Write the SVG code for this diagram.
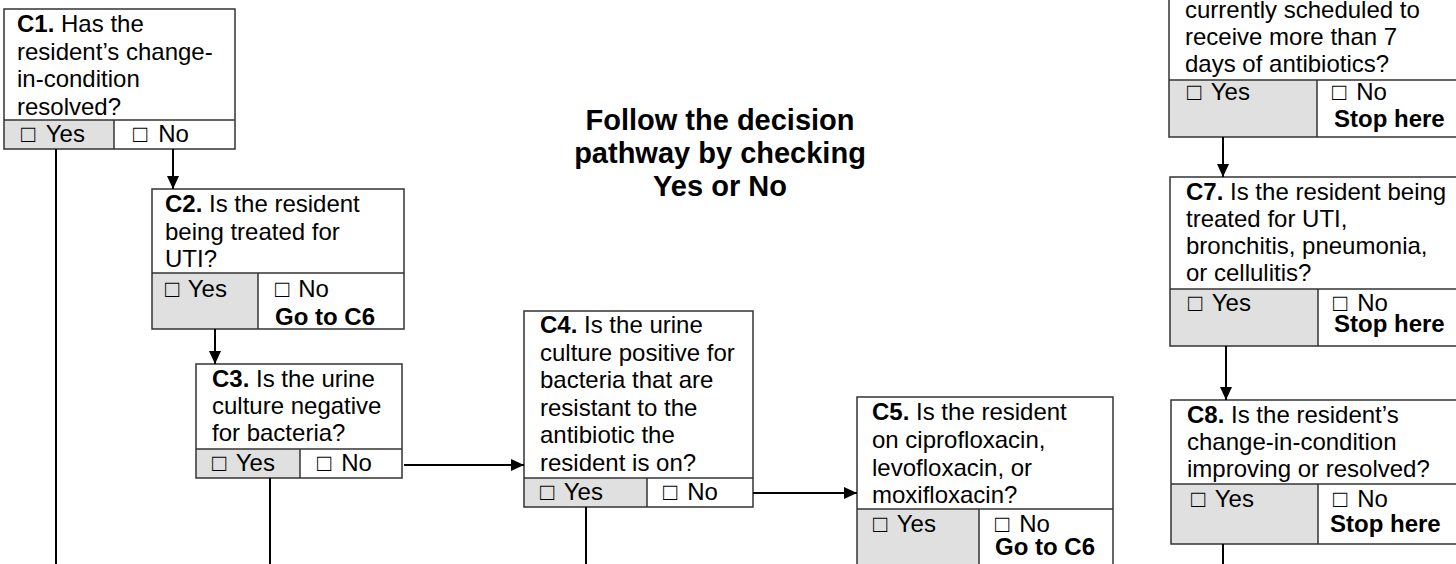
<svg xmlns="http://www.w3.org/2000/svg" width="1456" height="564" viewBox="0 0 1456 564">
<defs>
<style>
.box{fill:none;stroke:#333;stroke-width:1.5}
.yes{fill:#e0e0e0}
.sep{stroke:#333;stroke-width:1.5}
text{font-family:"Liberation Sans",Arial,"DejaVu Sans",sans-serif;font-size:24px;fill:#000}
.b{font-weight:bold}
.cb{font-weight:bold}
.title{font-size:29px;font-weight:bold;text-anchor:middle}
.conn line{stroke:#000;stroke-width:2;fill:none}
</style>
<marker id="arr" markerUnits="userSpaceOnUse" markerWidth="13" markerHeight="12" refX="13" refY="6" orient="auto">
<path d="M0,0 L13,6 L0,12 z" fill="#000"/>
</marker>
</defs>
<rect width="1456" height="564" fill="#fff"/>

<g id="title">
<text class="title" x="720" y="130">Follow the decision</text>
<text class="title" x="720" y="163">pathway by checking</text>
<text class="title" x="720" y="196">Yes or No</text>
</g>

<g id="c1">
<rect class="yes" x="4" y="120" width="110" height="29"/>
<rect class="box" x="4" y="9" width="231" height="140"/>
<line class="sep" x1="4" y1="120" x2="235" y2="120"/>
<line class="sep" x1="114" y1="120" x2="114" y2="149"/>
<text x="17" y="32"><tspan class="b">C1.</tspan> Has the</text>
<text x="17" y="59.5">resident’s change-</text>
<text x="17" y="87">in-condition</text>
<text x="17" y="114.5">resolved?</text>
<text x="21" y="142"><tspan class="cb">□</tspan> <tspan dx="4">Yes</tspan></text>
<text x="133" y="142"><tspan class="cb">□</tspan> <tspan dx="4">No</tspan></text>
</g>

<g id="c2">
<rect class="yes" x="152" y="273" width="106" height="56"/>
<rect class="box" x="152" y="189" width="252" height="140"/>
<line class="sep" x1="152" y1="273" x2="404" y2="273"/>
<line class="sep" x1="258" y1="273" x2="258" y2="329"/>
<text x="165" y="212"><tspan class="b">C2.</tspan> Is the resident</text>
<text x="165" y="240">being treated for</text>
<text x="165" y="267">UTI?</text>
<text x="165" y="297"><tspan class="cb">□</tspan> <tspan dx="2">Yes</tspan></text>
<text x="275" y="297"><tspan class="cb">□</tspan> <tspan dx="2">No</tspan></text>
<text class="b" x="275" y="325">Go to C6</text>
</g>

<g id="c3">
<rect class="yes" x="196" y="449" width="104" height="29"/>
<rect class="box" x="196" y="364" width="206" height="114"/>
<line class="sep" x1="196" y1="449" x2="402" y2="449"/>
<line class="sep" x1="300" y1="449" x2="300" y2="478"/>
<text x="212" y="387"><tspan class="b">C3.</tspan> Is the urine</text>
<text x="212" y="414">culture negative</text>
<text x="212" y="441">for bacteria?</text>
<text x="212" y="471"><tspan class="cb">□</tspan> <tspan dx="3">Yes</tspan></text>
<text x="317" y="471"><tspan class="cb">□</tspan> <tspan dx="3">No</tspan></text>
</g>

<g id="c4">
<rect class="yes" x="524" y="478" width="123" height="29"/>
<rect class="box" x="524" y="311" width="229" height="196"/>
<line class="sep" x1="524" y1="478" x2="753" y2="478"/>
<line class="sep" x1="647" y1="478" x2="647" y2="507"/>
<text x="540" y="333"><tspan class="b">C4.</tspan> Is the urine</text>
<text x="540" y="361">culture positive for</text>
<text x="540" y="388">bacteria that are</text>
<text x="540" y="416">resistant to the</text>
<text x="540" y="443">antibiotic the</text>
<text x="540" y="471">resident is on?</text>
<text x="540" y="500"><tspan class="cb">□</tspan> <tspan dx="3">Yes</tspan></text>
<text x="663" y="500"><tspan class="cb">□</tspan> <tspan dx="3">No</tspan></text>
</g>

<g id="c5">
<rect class="yes" x="857" y="509" width="122" height="61"/>
<rect class="box" x="857" y="397" width="256" height="173"/>
<line class="sep" x1="857" y1="509" x2="1113" y2="509"/>
<line class="sep" x1="979" y1="509" x2="979" y2="570"/>
<text x="872" y="420"><tspan class="b">C5.</tspan> Is the resident</text>
<text x="872" y="448">on ciprofloxacin,</text>
<text x="872" y="476">levofloxacin, or</text>
<text x="872" y="503">moxifloxacin?</text>
<text x="873" y="532"><tspan class="cb">□</tspan> <tspan dx="3">Yes</tspan></text>
<text x="995" y="532"><tspan class="cb">□</tspan> <tspan dx="3">No</tspan></text>
<text class="b" x="995" y="555">Go to C6</text>
</g>

<g id="c6">
<rect class="yes" x="1169" y="80" width="148" height="57"/>
<rect class="box" x="1169" y="-5" width="291" height="142"/>
<line class="sep" x1="1169" y1="80" x2="1460" y2="80"/>
<line class="sep" x1="1317" y1="80" x2="1317" y2="137"/>
<text x="1185" y="18">currently scheduled to</text>
<text x="1185" y="45">receive more than 7</text>
<text x="1185" y="72">days of antibiotics?</text>
<text x="1187" y="100"><tspan class="cb">□</tspan> <tspan dx="3">Yes</tspan></text>
<text x="1332" y="100"><tspan class="cb">□</tspan> <tspan dx="3">No</tspan></text>
<text class="b" x="1334" y="127">Stop here</text>
</g>

<g id="c7">
<rect class="yes" x="1170" y="289" width="148" height="57"/>
<rect class="box" x="1170" y="177" width="290" height="169"/>
<line class="sep" x1="1170" y1="289" x2="1460" y2="289"/>
<line class="sep" x1="1318" y1="289" x2="1318" y2="346"/>
<text x="1186" y="199.5"><tspan class="b">C7.</tspan> Is the resident being</text>
<text x="1186" y="226.5">treated for UTI,</text>
<text x="1186" y="253.5">bronchitis, pneumonia,</text>
<text x="1186" y="280.5">or cellulitis?</text>
<text x="1188" y="311"><tspan class="cb">□</tspan> <tspan dx="3">Yes</tspan></text>
<text x="1333" y="311"><tspan class="cb">□</tspan> <tspan dx="3">No</tspan></text>
<text class="b" x="1334" y="332">Stop here</text>
</g>

<g id="c8">
<rect class="yes" x="1171" y="484" width="147" height="60"/>
<rect class="box" x="1171" y="400" width="289" height="144"/>
<line class="sep" x1="1171" y1="484" x2="1460" y2="484"/>
<line class="sep" x1="1318" y1="484" x2="1318" y2="544"/>
<text x="1187" y="423"><tspan class="b">C8.</tspan> Is the resident’s</text>
<text x="1187" y="450">change-in-condition</text>
<text x="1187" y="477">improving or resolved?</text>
<text x="1191" y="507"><tspan class="cb">□</tspan> <tspan dx="3">Yes</tspan></text>
<text x="1333" y="507"><tspan class="cb">□</tspan> <tspan dx="3">No</tspan></text>
<text class="b" x="1330" y="532">Stop here</text>
</g>

<g id="connectors" class="conn">
<line x1="173" y1="149" x2="173" y2="189" marker-end="url(#arr)"/>
<line x1="56" y1="149" x2="56" y2="566"/>
<line x1="215" y1="329" x2="215" y2="364" marker-end="url(#arr)"/>
<line x1="404" y1="465" x2="524" y2="465" marker-end="url(#arr)"/>
<line x1="270" y1="478" x2="270" y2="566"/>
<line x1="753" y1="493" x2="857" y2="493" marker-end="url(#arr)"/>
<line x1="586" y1="507" x2="586" y2="566"/>
<line x1="1223" y1="137" x2="1223" y2="177" marker-end="url(#arr)"/>
<line x1="1226" y1="346" x2="1226" y2="400" marker-end="url(#arr)"/>
<line x1="1223" y1="544" x2="1223" y2="566"/>
</g>
</svg>
